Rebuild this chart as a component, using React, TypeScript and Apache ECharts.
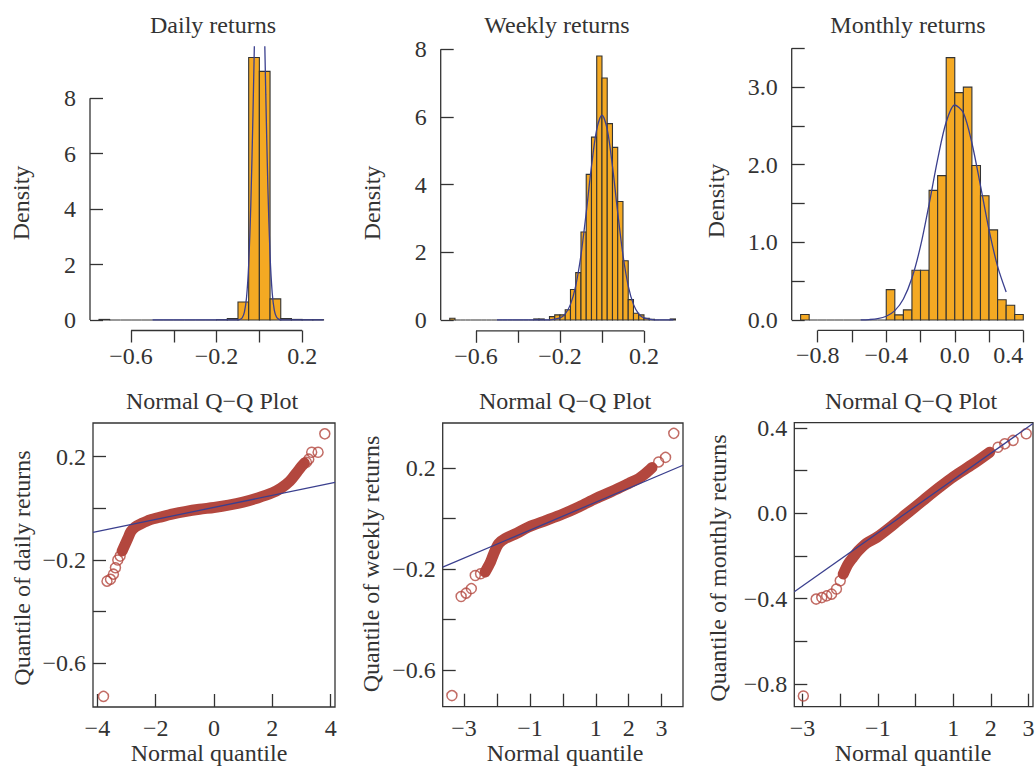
import React, { useEffect, useRef } from "react";
import * as echarts from "echarts";

// ---------------- data ----------------
// Histograms: lower bin edges and densities
const dailyBreaks = [-0.75, -0.7, -0.65, -0.6, -0.55, -0.5, -0.45, -0.4, -0.35, -0.3, -0.25, -0.2, -0.15, -0.1, -0.05, 0, 0.05, 0.1, 0.15, 0.2, 0.25];
const dailyDensity = [0.02, 0, 0, 0, 0, 0, 0, 0, 0, 0, 0, 0.01, 0.05, 0.65, 9.47, 8.97, 0.76, 0.05, 0.02, 0.01, 0.01];
const dailyBinWidth = 0.05;

const weeklyBreaks = [-0.725, -0.7, -0.675, -0.65, -0.625, -0.6, -0.575, -0.55, -0.525, -0.5, -0.475, -0.45, -0.425, -0.4, -0.375, -0.35, -0.325, -0.3, -0.275, -0.25, -0.225, -0.2, -0.175, -0.15, -0.125, -0.1, -0.075, -0.05, -0.025, 0, 0.025, 0.05, 0.075, 0.1, 0.125, 0.15, 0.175, 0.2, 0.225, 0.25, 0.275, 0.3, 0.325];
const weeklyDensity = [0.05, 0, 0, 0, 0, 0, 0, 0, 0, 0, 0, 0, 0, 0, 0, 0, 0.03, 0.03, 0, 0.1, 0.15, 0.15, 0.3, 0.9, 1.4, 2.6, 4.3, 5.4, 7.8, 7.15, 5.8, 5.1, 3.5, 1.75, 0.6, 0.2, 0.15, 0.05, 0.02, 0, 0, 0, 0.03];
const weeklyBinWidth = 0.025;

const monthlyBreaks = [-0.9, -0.85, -0.8, -0.75, -0.7, -0.65, -0.6, -0.55, -0.5, -0.45, -0.4, -0.35, -0.3, -0.25, -0.2, -0.15, -0.1, -0.05, 0, 0.05, 0.1, 0.15, 0.2, 0.25, 0.3, 0.35];
const monthlyDensity = [0.07, 0, 0, 0, 0, 0, 0, 0, 0, 0, 0.39, 0.065, 0.13, 0.64, 0.64, 1.67, 1.86, 3.38, 2.93, 3.0, 1.99, 1.6, 1.16, 0.26, 0.19, 0.07];
const monthlyBinWidth = 0.05;

// Fitted normal density curves
const dailyCurveX = [-0.5, -0.2, -0.12, -0.1, -0.09, -0.08, -0.07, -0.06, -0.05, -0.04, -0.03, -0.02, -0.01, 0, 0.01, 0.02, 0.03, 0.04, 0.05, 0.06, 0.07, 0.08, 0.09, 0.1, 0.12, 0.2, 0.3];
const dailyCurveY = [0, 0, 0, 0.005, 0.02, 0.08, 0.28, 0.81, 1.99, 4.16, 7.4, 11.2, 14.5, 15.95, 14.96, 11.95, 8.14, 4.73, 2.34, 0.98, 0.35, 0.11, 0.03, 0.006, 0, 0, 0];

const weeklyCurveX = [-0.5, -0.3, -0.25, -0.2, -0.175, -0.15, -0.125, -0.1, -0.075, -0.05, -0.025, 0, 0.025, 0.05, 0.075, 0.1, 0.125, 0.15, 0.175, 0.2, 0.25, 0.34];
const weeklyCurveY = [0, 0.002, 0.005, 0.06, 0.18, 0.46, 1.01, 1.92, 3.17, 4.54, 5.63, 6.05, 5.63, 4.54, 3.17, 1.92, 1.01, 0.46, 0.18, 0.06, 0.005, 0];

const monthlyCurveX = [-0.55, -0.5, -0.45, -0.4, -0.35, -0.3, -0.25, -0.2, -0.15, -0.1, -0.05, 0, 0.05, 0.1, 0.15, 0.2, 0.25, 0.3];
const monthlyCurveY = [0.001, 0.005, 0.016, 0.047, 0.12, 0.27, 0.54, 0.95, 1.49, 2.07, 2.55, 2.77, 2.67, 2.28, 1.73, 1.16, 0.69, 0.36];

// Q-Q plots: dense band of points and individual tail points
const dailyBandX = [-3.15, -3.05, -2.95, -2.85, -2.7, -2.5, -2.2, -1.8, -1.4, -1.0, -0.5, 0, 0.5, 1.0, 1.5, 2.0, 2.3, 2.6, 2.85, 3.0, 3.1];
const dailyBandY = [-0.165, -0.14, -0.115, -0.09, -0.072, -0.06, -0.045, -0.033, -0.022, -0.013, -0.004, 0.003, 0.012, 0.024, 0.04, 0.06, 0.078, 0.105, 0.14, 0.162, 0.175];
const dailyTailX = [-3.79, -3.67, -3.55, -3.45, -3.38, -3.3, -3.22, 3.17, 3.25, 3.35, 3.57, 3.8];
const dailyTailY = [-0.728, -0.282, -0.275, -0.255, -0.23, -0.2, -0.185, 0.178, 0.19, 0.217, 0.217, 0.288];
const dailyLineX = [-4.15, 4.15];
const dailyLineY = [-0.093, 0.1];

const weeklyBandX = [-2.36, -2.2, -2.1, -1.95, -1.75, -1.4, -1.04, -0.5, 0, 0.5, 1.0, 1.5, 2.0, 2.3, 2.51, 2.71];
const weeklyBandY = [-0.211, -0.172, -0.139, -0.099, -0.079, -0.058, -0.033, -0.007, 0.018, 0.047, 0.079, 0.108, 0.139, 0.158, 0.178, 0.202];
const weeklyTailX = [-3.37, -3.09, -2.94, -2.78, -2.66, -2.5, 2.91, 3.12, 3.37];
const weeklyTailY = [-0.7, -0.308, -0.295, -0.277, -0.225, -0.218, 0.224, 0.242, 0.337];
const weeklyLineX = [-3.65, 3.65];
const weeklyLineY = [-0.192, 0.211];

const monthlyBandX = [-1.92, -1.79, -1.66, -1.52, -1.3, -1.03, -0.6, -0.24, 0.2, 0.64, 1.0, 1.53, 1.97];
const monthlyBandY = [-0.285, -0.238, -0.207, -0.176, -0.14, -0.113, -0.055, -0.003, 0.06, 0.122, 0.17, 0.231, 0.286];
const monthlyTailX = [-2.98, -2.64, -2.49, -2.36, -2.23, -2.1, -2.0, 2.19, 2.37, 2.59, 2.94];
const monthlyTailY = [-0.856, -0.402, -0.395, -0.387, -0.379, -0.355, -0.316, 0.309, 0.325, 0.341, 0.372];
const monthlyLineX = [-3.22, 3.12];
const monthlyLineY = [-0.368, 0.42];

// Axis ticks and labels
const histXTicks = [-0.6, -0.4, -0.2, 0, 0.2];
const histXLabels = [-0.6, -0.2, 0.2];
const histYTicks = [0, 2, 4, 6, 8];
const monthlyXTicks = [-0.8, -0.6, -0.4, -0.2, 0, 0.2, 0.4];
const monthlyXLabels = [-0.8, -0.4, 0, 0.4];
const monthlyYTicks = [0, 0.5, 1, 1.5, 2, 2.5, 3, 3.5];
const monthlyYLabels = [0, 1, 2, 3];
const dailyQQXTicks = [-4, -2, 0, 2, 4];
const qqXTicks = [-3, -2, -1, 0, 1, 2, 3];
const qqXLabels = [-3, -1, 1, 2, 3];
const qqYTicks = [-0.6, -0.4, -0.2, 0, 0.2];
const qqYLabels = [-0.6, -0.2, 0.2];
const monthlyQQYTicks = [-0.8, -0.6, -0.4, -0.2, 0, 0.2, 0.4];
const monthlyQQYLabels = [-0.8, -0.4, 0, 0.4];

const histTitles = ["Daily returns", "Weekly returns", "Monthly returns"];
const qqTitle = "Normal Q\u2212Q Plot";
const qqXName = "Normal quantile";
const histYName = "Density";
const qqYNames = ["Quantile of daily returns", "Quantile of weekly returns", "Quantile of monthly returns"];

// ---------------- style ----------------
const INK = "#333333";
const BAR = "#F4A923";
const BLUE = "#3A3F8E";
const RED = "#B3473E";
const FONT = "'Liberation Serif', 'DejaVu Serif', serif";
const FS = 24;

const zip = (xs: number[], ys: number[]) => xs.map((x, i) => [x, ys[i]]);
const fmt = (dec: number) => (v: number) => (Math.abs(v) < 1e-9 ? 0 : v).toFixed(dec).replace("-", "\u2212");

function buildOption() {
  const grids = [
    { left: 90, top: 47, width: 242.5, height: 283.5 },
    { left: 440.7, top: 45.1, width: 243.8, height: 285.7 },
    { left: 791.7, top: 46.8, width: 240.5, height: 283.6 },
    { left: 93, top: 423, width: 242, height: 284 },
    { left: 442.7, top: 423, width: 240.3, height: 283.7 },
    { left: 794.3, top: 422.7, width: 238.7, height: 284 },
  ];

  const hist = [
    { breaks: dailyBreaks, dens: dailyDensity, w: dailyBinWidth, cx: dailyCurveX, cy: dailyCurveY, xMin: -0.792, xMax: 0.342, yMin: -0.38, yMax: 9.85, xT: histXTicks, xL: histXLabels, yT: histYTicks, yL: histYTicks, yDec: 0 },
    { breaks: weeklyBreaks, dens: weeklyDensity, w: weeklyBinWidth, cx: weeklyCurveX, cy: weeklyCurveY, xMin: -0.768, xMax: 0.393, yMin: -0.32, yMax: 8.12, xT: histXTicks, xL: histXLabels, yT: histYTicks, yL: histYTicks, yDec: 0 },
    { breaks: monthlyBreaks, dens: monthlyDensity, w: monthlyBinWidth, cx: monthlyCurveX, cy: monthlyCurveY, xMin: -0.952, xMax: 0.452, yMin: -0.135, yMax: 3.52, xT: monthlyXTicks, xL: monthlyXLabels, yT: monthlyYTicks, yL: monthlyYLabels, yDec: 1 },
  ];
  const qq = [
    { bx: dailyBandX, by: dailyBandY, tx: dailyTailX, ty: dailyTailY, lx: dailyLineX, ly: dailyLineY, xMin: -4.15, xMax: 4.15, yMin: -0.769, yMax: 0.33, xT: dailyQQXTicks, xL: dailyQQXTicks, yT: qqYTicks, yL: qqYLabels },
    { bx: weeklyBandX, by: weeklyBandY, tx: weeklyTailX, ty: weeklyTailY, lx: weeklyLineX, ly: weeklyLineY, xMin: -3.65, xMax: 3.65, yMin: -0.744, yMax: 0.378, xT: qqXTicks, xL: qqXLabels, yT: qqYTicks, yL: qqYLabels },
    { bx: monthlyBandX, by: monthlyBandY, tx: monthlyTailX, ty: monthlyTailY, lx: monthlyLineX, ly: monthlyLineY, xMin: -3.22, xMax: 3.12, yMin: -0.906, yMax: 0.424, xT: qqXTicks, xL: qqXLabels, yT: monthlyQQYTicks, yL: monthlyQQYLabels },
  ];

  const labelStyle = { fontFamily: FONT, fontSize: FS, color: INK, hideOverlap: false };
  const tickLine = { color: INK, width: 1.3 };

  const xAxis: any[] = [];
  const yAxis: any[] = [];
  const series: any[] = [];

  hist.forEach((h, i) => {
    xAxis.push({
      type: "value", gridIndex: i, min: h.xMin, max: h.xMax,
      splitLine: { show: false }, axisLine: { show: false, onZero: false },
      axisTick: { show: true, inside: false, length: 12, customValues: h.xT, lineStyle: tickLine },
      axisLabel: { ...labelStyle, margin: 13, customValues: h.xL, formatter: fmt(1), alignMaxLabel: i === 2 ? "right" : undefined },
    });
    yAxis.push({
      type: "value", gridIndex: i, min: h.yMin, max: h.yMax,
      splitLine: { show: false }, axisLine: { show: false, onZero: false },
      axisTick: { show: true, inside: true, length: 13, customValues: h.yT, lineStyle: tickLine },
      axisLabel: { ...labelStyle, margin: 14, customValues: h.yL, formatter: fmt(h.yDec) },
    });
    series.push({
      type: "custom", xAxisIndex: i, yAxisIndex: i, silent: true,
      encode: { x: [0, 1], y: 2 },
      data: h.breaks.map((b, k) => [b, b + h.w, h.dens[k]]),
      renderItem: (_p: any, api: any) => {
        const a = api.coord([api.value(0), api.value(2)]);
        const b = api.coord([api.value(1), 0]);
        return {
          type: "rect",
          shape: { x: a[0], y: a[1], width: b[0] - a[0], height: b[1] - a[1] },
          style: { fill: BAR, stroke: INK, lineWidth: 1.1 },
        };
      },
    });
    series.push({
      type: "line", xAxisIndex: i, yAxisIndex: i, data: zip(h.cx, h.cy), smooth: 0.3,
      symbol: "none", clip: true, silent: true, lineStyle: { color: BLUE, width: 1.3 }, z: 4,
    });
    // axis line segments spanning the first to last tick (R style)
    series.push({
      type: "line", xAxisIndex: i, yAxisIndex: i, symbol: "none", clip: false, silent: true,
      data: [[h.xT[0], h.yMin], [h.xT[h.xT.length - 1], h.yMin]], lineStyle: { color: INK, width: 1.3 }, z: 5,
    });
    series.push({
      type: "line", xAxisIndex: i, yAxisIndex: i, symbol: "none", clip: false, silent: true,
      data: [[h.xMin, h.yT[0]], [h.xMin, h.yT[h.yT.length - 1]]], lineStyle: { color: INK, width: 1.3 }, z: 5,
    });
  });

  qq.forEach((q, j) => {
    const i = j + 3;
    xAxis.push({
      type: "value", gridIndex: i, min: q.xMin, max: q.xMax,
      splitLine: { show: false }, axisLine: { show: false, onZero: false },
      axisTick: { show: true, inside: true, length: 13, customValues: q.xT, lineStyle: tickLine },
      axisLabel: { ...labelStyle, margin: 9, customValues: q.xL, formatter: fmt(0) },
    });
    yAxis.push({
      type: "value", gridIndex: i, min: q.yMin, max: q.yMax,
      splitLine: { show: false }, axisLine: { show: false, onZero: false },
      axisTick: { show: true, inside: true, length: 13, customValues: q.yT, lineStyle: tickLine },
      axisLabel: { ...labelStyle, margin: 7, customValues: q.yL, formatter: fmt(1) },
    });
    series.push({
      type: "line", xAxisIndex: i, yAxisIndex: i, data: zip(q.bx, q.by), smooth: 0.3, symbol: "none",
      clip: true, silent: true, lineStyle: { color: RED, width: 11, cap: "round", join: "round" }, z: 2,
    });
    series.push({
      type: "scatter", xAxisIndex: i, yAxisIndex: i, data: zip(q.tx, q.ty), symbol: "circle", symbolSize: 10,
      silent: true, clip: false, itemStyle: { color: "rgba(0,0,0,0)", borderColor: RED, borderWidth: 1.5 }, z: 3,
    });
    series.push({
      type: "line", xAxisIndex: i, yAxisIndex: i, data: zip(q.lx, q.ly), symbol: "none", clip: true,
      silent: true, lineStyle: { color: BLUE, width: 1.3 }, z: 4,
    });
  });

  const gridOpts = grids.map((g, i) => ({
    ...g,
    containLabel: false,
    outerBoundsMode: "none",
    show: i >= 3,
    borderColor: INK,
    borderWidth: 1.3,
    backgroundColor: "transparent",
  }));

  const txt = (text: string, x: number, y: number, rot = 0) => ({
    type: "text", x, y, rotation: rot, silent: true,
    style: { text, fill: INK, font: `${FS}px ${FONT}`, textAlign: "center", textVerticalAlign: "middle", align: "center", verticalAlign: "middle" },
  });

  const graphic = [
    txt(histTitles[0], 213, 25), txt(histTitles[1], 557, 25), txt(histTitles[2], 908, 25),
    txt(histYName, 21, 203, Math.PI / 2), txt(histYName, 372, 203, Math.PI / 2), txt(histYName, 716, 201, Math.PI / 2),
    txt(qqTitle, 212, 401), txt(qqTitle, 565, 401), txt(qqTitle, 911, 401),
    txt(qqXName, 209, 753), txt(qqXName, 565, 753), txt(qqXName, 913, 753),
    txt(qqYNames[0], 22, 568, Math.PI / 2), txt(qqYNames[1], 371, 564, Math.PI / 2), txt(qqYNames[2], 718, 568, Math.PI / 2),
  ];

  return {
    animation: false,
    backgroundColor: "#ffffff",
    textStyle: { fontFamily: FONT },
    grid: gridOpts,
    xAxis,
    yAxis,
    series,
    graphic,
  };
}

export default function App() {
  const ref = useRef<HTMLDivElement>(null);
  useEffect(() => {
    if (!ref.current) return;
    const chart = echarts.init(ref.current, null, { renderer: "svg" });
    chart.setOption(buildOption() as any);
    return () => chart.dispose();
  }, []);
  return (
    <div
      ref={ref}
      style={{ position: "fixed", left: 0, top: 0, width: 1035, height: 767, background: "#fff" }}
    />
  );
}
